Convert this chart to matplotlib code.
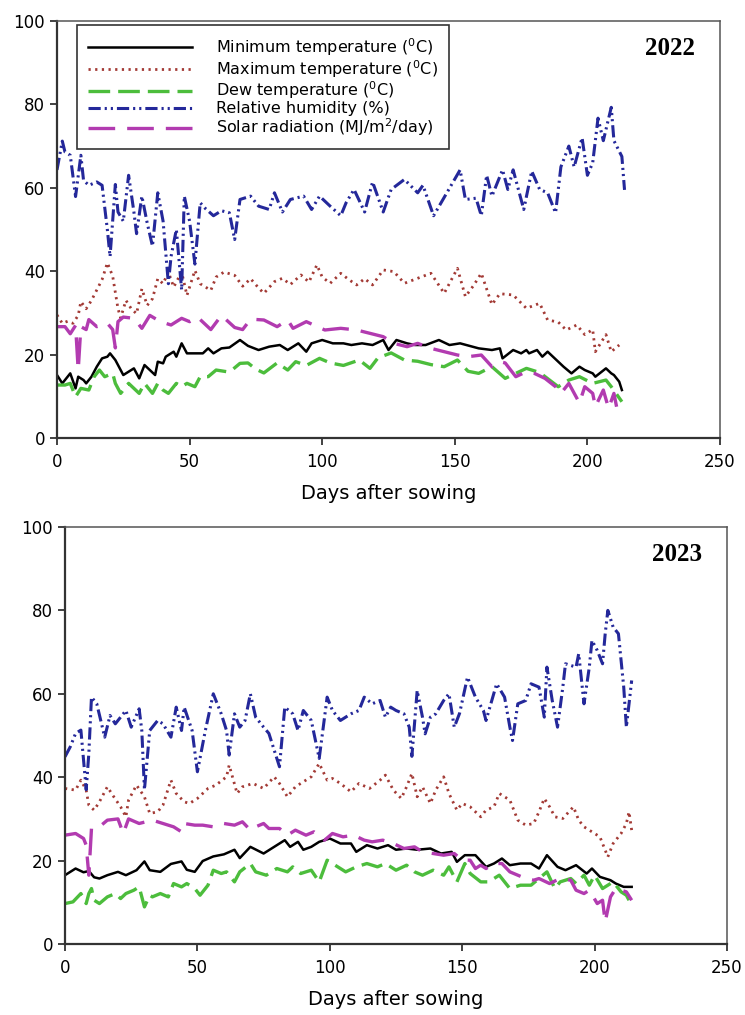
import matplotlib
matplotlib.use("Agg")
import matplotlib.pyplot as plt

plt.rcParams['font.family'] = ['DejaVu Sans']
plt.rcParams['mathtext.fontset'] = 'dejavusans'
plt.rcParams['mathtext.default'] = 'regular'

# ---------------- 2022 ----------------
min22_d = [0, 2, 3, 5, 7, 8, 10, 11, 13, 15, 17, 19, 20, 22, 25, 27, 29, 31, 33, 35, 37, 38, 40, 41, 44, 45, 47, 49,
           52, 55, 57, 59, 62, 65, 69, 72, 76, 80, 84, 87, 91, 94, 96, 100, 104, 108, 111, 115, 119, 123, 125, 128,
           132, 135, 139, 144, 148, 152, 159, 164, 167, 168, 172, 175, 177, 178, 181, 183, 185, 187, 189, 191, 194,
           197, 199, 202, 203, 207, 209, 210, 212, 213]
min22_v = [15.1, 13.1, 13.9, 15.5, 11.9, 14.7, 13.9, 13.1, 14.7, 17.1, 19.1, 19.5, 20.3, 18.7, 15.1, 15.9, 16.7, 14.3,
           17.5, 16.3, 15.1, 18.3, 17.9, 19.5, 20.7, 19.5, 22.7, 20.3, 20.3, 20.3, 21.5, 20.3, 21.5, 21.7, 23.5, 22.1,
           21.1, 21.9, 22.3, 21.1, 22.7, 20.7, 22.7, 23.5, 22.7, 22.7, 22.3, 22.7, 22.3, 23.5, 21.1, 23.5, 22.7, 22.3,
           22.3, 23.5, 22.3, 22.7, 21.5, 21.1, 21.5, 19.1, 21.1, 20.3, 21.1, 20.3, 21.1, 19.5, 20.7, 19.5, 18.3, 17.1,
           15.5, 17.1, 16.3, 15.5, 14.7, 16.7, 15.5, 15.1, 13.5, 11.5]

max22_d = [0, 2, 4, 6, 8, 9, 11, 13, 15, 17, 19, 21, 23, 24, 26, 28, 30, 32, 34, 36, 38, 40, 42, 44, 47, 49, 52, 54,
           58, 60, 63, 67, 70, 73, 76, 78, 82, 85, 88, 92, 95, 98, 100, 103, 107, 110, 113, 116, 119, 123, 127, 131,
           136, 141, 146, 151, 154, 157, 160, 164, 167, 172, 177, 182, 185, 189, 192, 196, 199, 202, 203, 207, 209,
           212]
max22_v = [29.5, 27.5, 28.0, 27.5, 29.4, 32.7, 31.0, 33.0, 35.5, 38.0, 42.0, 38.8, 31.0, 28.8, 33.0, 31.0, 29.8, 35.8,
           31.8, 33.4, 38.2, 37.0, 39.8, 36.2, 39.8, 34.2, 40.2, 37.0, 35.4, 38.6, 39.8, 39.0, 36.4, 38.2, 36.0, 34.7,
           37.5, 38.3, 36.8, 39.1, 37.4, 41.5, 38.6, 37.1, 39.5, 38.0, 36.7, 38.2, 36.7, 40.3, 39.9, 37.1, 38.3, 39.5,
           34.7, 40.7, 33.9, 36.5, 39.5, 32.0, 34.6, 34.3, 31.1, 32.3, 28.3, 27.8, 25.9, 27.1, 24.8, 26.0, 20.7, 24.8,
           20.7, 22.3]

dew22_d = [0, 3, 5, 7, 9, 12, 14, 16, 18, 21, 22, 24, 27, 29, 31, 33, 36, 38, 40, 42, 45, 47, 49, 52, 54, 57, 60, 64,
           66, 69, 72, 75, 78, 83, 87, 90, 94, 99, 103, 108, 114, 118, 121, 126, 131, 136, 141, 146, 151, 155, 159,
           164, 169, 177, 182, 189, 193, 197, 202, 207, 209, 213]
dew22_v = [12.7, 12.7, 13.1, 9.9, 11.9, 11.5, 14.7, 16.3, 14.7, 15.5, 13.1, 10.7, 13.1, 11.9, 10.7, 13.1, 10.7, 13.1,
           11.5, 10.7, 13.1, 12.3, 13.1, 12.3, 14.7, 14.7, 16.3, 15.9, 16.3, 17.9, 18.0, 16.5, 15.6, 18.0, 16.3, 18.3,
           17.4, 19.1, 18.0, 17.4, 18.7, 16.7, 19.2, 20.4, 18.7, 18.4, 17.6, 17.1, 18.7, 16.0, 15.5, 17.1, 14.3, 16.7,
           15.7, 12.3, 13.9, 14.7, 13.1, 13.9, 12.3, 8.7]

rh22_d = [0, 2, 3, 5, 7, 9, 10, 12, 15, 17, 19, 20, 22, 23, 25, 27, 29, 30, 32, 34, 36, 38, 40, 42, 43, 45, 47, 48,
          50, 52, 54, 56, 59, 62, 65, 67, 69, 73, 76, 80, 82, 85, 88, 93, 96, 99, 103, 107, 109, 112, 116, 119, 123,
          126, 131, 136, 138, 142, 147, 152, 154, 158, 160, 162, 164, 168, 170, 172, 176, 179, 182, 185, 188, 190,
          193, 195, 198, 200, 202, 204, 206, 209, 210, 213, 214]
rh22_v = [64.3, 71.2, 68.6, 67.8, 57.9, 67.8, 61.8, 60.6, 61.4, 60.6, 49.9, 43.5, 60.8, 54.2, 52.0, 63.0, 54.2, 49.0,
          58.0, 51.6, 46.0, 58.8, 52.0, 37.0, 43.5, 50.0, 35.5, 58.0, 52.0, 41.7, 56.4, 55.0, 53.3, 54.5, 54.0, 47.6,
          57.2, 58.0, 55.6, 54.8, 58.8, 54.2, 57.2, 58.0, 54.8, 58.0, 55.6, 53.3, 56.4, 59.6, 54.2, 61.4, 54.2, 59.6,
          62.0, 58.8, 60.6, 53.3, 58.8, 64.3, 57.2, 57.5, 53.3, 63.0, 58.0, 64.3, 59.6, 64.3, 54.8, 64.0, 59.6, 58.8,
          54.0, 65.0, 70.0, 65.0, 72.0, 63.0, 66.0, 76.7, 71.3, 79.3, 71.3, 67.5, 59.5]

sol22_d = [0, 3, 5, 7, 8, 9, 11, 12, 15, 19, 21, 22, 23, 25, 29, 32, 35, 39, 43, 47, 50, 53, 58, 62, 67, 70, 73, 78,
           83, 87, 89, 94, 101, 107, 113, 118, 123, 127, 132, 136, 141, 146, 151, 155, 160, 164, 167, 169, 173, 177,
           180, 184, 188, 190, 193, 197, 199, 202, 203, 206, 208, 210, 211]
sol22_v = [26.7, 26.7, 25.0, 27.0, 16.3, 26.7, 26.0, 28.4, 26.7, 27.5, 26.0, 21.6, 27.9, 29.0, 28.7, 26.3, 29.4, 27.9,
           27.1, 28.7, 27.9, 29.0, 26.0, 29.4, 26.5, 26.0, 28.5, 28.3, 26.7, 28.3, 26.3, 27.9, 25.9, 26.3, 25.9, 25.1,
           24.3, 22.7, 21.9, 22.7, 21.5, 20.7, 19.9, 19.5, 19.9, 17.1, 18.3, 18.0, 14.7, 15.9, 15.5, 14.3, 12.3, 10.7,
           13.1, 8.4, 12.3, 10.7, 7.5, 11.5, 7.1, 10.7, 7.5]

# ---------------- 2023 ----------------
min23_d = [0, 2, 4, 7, 9, 11, 13, 16, 20, 23, 27, 30, 32, 36, 40, 44, 46, 49, 52, 56, 60, 64, 66, 70, 75, 79, 83, 85,
           88, 90, 93, 96, 100, 104, 108, 110, 114, 118, 122, 125, 129, 133, 138, 142, 146, 148, 151, 155, 159, 162,
           165, 168, 172, 176, 179, 182, 186, 189, 193, 197, 199, 202, 206, 208, 211, 214]
min23_v = [16.5, 17.3, 18.1, 17.2, 17.5, 16.0, 15.7, 16.5, 17.3, 16.5, 17.7, 19.8, 17.7, 17.3, 19.2, 19.8, 17.8, 17.3,
           19.9, 21.0, 21.5, 22.6, 20.6, 23.3, 21.7, 23.3, 24.9, 23.3, 24.5, 22.6, 23.3, 24.5, 25.3, 24.1, 24.1, 22.1,
           23.7, 22.9, 23.7, 22.6, 22.9, 22.6, 22.9, 21.7, 22.1, 19.7, 21.3, 21.3, 18.5, 19.3, 20.5, 18.9, 19.3, 19.3,
           18.1, 21.3, 18.5, 17.7, 18.9, 16.9, 18.1, 16.1, 15.3, 14.5, 13.7, 13.7]

max23_d = [0, 4, 6, 8, 9, 11, 13, 16, 18, 21, 23, 24, 27, 30, 32, 35, 37, 40, 42, 45, 47, 50, 54, 57, 61, 62, 65, 67,
           71, 75, 79, 81, 84, 87, 90, 93, 96, 99, 101, 104, 108, 111, 115, 119, 121, 124, 127, 129, 131, 133, 135,
           138, 140, 143, 145, 148, 150, 153, 157, 159, 162, 164, 168, 171, 174, 177, 179, 181, 183, 185, 188, 192,
           194, 196, 200, 202, 204, 205, 207, 210, 212, 213, 214]
max23_v = [37.3, 36.9, 39.3, 36.9, 33.3, 32.1, 34.1, 37.7, 35.7, 32.9, 30.5, 34.5, 38.1, 35.3, 31.3, 31.7, 33.3, 39.3,
           36.1, 34.1, 33.7, 34.9, 37.3, 38.1, 40.1, 42.9, 36.1, 37.7, 38.5, 37.3, 40.1, 38.5, 35.3, 37.7, 38.9, 40.1,
           43.3, 39.3, 39.7, 38.5, 36.5, 38.5, 37.3, 39.3, 40.5, 36.9, 34.9, 37.7, 40.9, 35.3, 37.7, 33.7, 36.9, 40.1,
           36.1, 32.1, 33.7, 32.9, 30.5, 32.1, 32.9, 36.1, 34.5, 29.7, 28.5, 28.9, 31.7, 34.9, 32.9, 30.5, 30.1, 32.9,
           29.7, 28.1, 26.5, 25.7, 22.5, 20.9, 24.1, 26.5, 28.9, 31.7, 27.3]

dew23_d = [0, 3, 6, 8, 9, 10, 11, 13, 16, 19, 21, 23, 26, 28, 30, 32, 33, 36, 39, 41, 44, 46, 49, 51, 54, 56, 59, 61,
           64, 66, 70, 72, 76, 80, 84, 86, 89, 93, 96, 99, 103, 106, 110, 114, 118, 121, 125, 129, 132, 135, 139, 143,
           145, 148, 151, 153, 157, 160, 164, 168, 172, 176, 179, 182, 185, 187, 191, 193, 196, 198, 200, 203, 207,
           210, 212, 213]
dew23_v = [9.7, 10.1, 12.1, 9.7, 12.1, 13.3, 10.5, 9.7, 11.3, 12.1, 10.9, 12.1, 12.9, 13.7, 8.9, 11.7, 11.3, 12.1,
           11.3, 14.5, 13.7, 14.5, 13.3, 11.7, 14.1, 17.7, 16.9, 17.3, 14.9, 17.3, 19.3, 17.3, 16.5, 18.1, 17.3, 18.5,
           16.9, 17.7, 14.9, 20.1, 18.5, 17.3, 18.5, 19.3, 18.5, 19.3, 17.7, 18.9, 17.3, 16.5, 17.7, 16.5, 18.5, 14.9,
           19.3, 16.9, 14.9, 14.9, 16.5, 13.3, 14.1, 14.1, 15.7, 17.3, 13.3, 14.9, 15.7, 14.5, 16.5, 14.1, 16.5, 13.3,
           14.9, 12.5, 11.7, 10.5]

rh23_d = [0, 2, 4, 6, 8, 9, 10, 12, 15, 17, 19, 21, 23, 25, 28, 29, 30, 32, 35, 37, 40, 42, 44, 45, 48, 50, 53, 56,
          59, 61, 62, 64, 66, 68, 70, 72, 75, 77, 81, 83, 86, 88, 90, 93, 96, 99, 101, 104, 108, 111, 113, 116, 119,
          121, 123, 125, 128, 130, 131, 133, 135, 136, 138, 140, 143, 145, 147, 149, 152, 155, 158, 159, 163, 166,
          168, 169, 171, 174, 176, 179, 181, 182, 184, 186, 188, 189, 193, 194, 196, 198, 199, 201, 203, 204, 205,
          207, 209, 211, 212, 214]
rh23_v = [44.9, 47.3, 50.5, 51.3, 37.0, 45.7, 59.2, 57.6, 49.6, 54.8, 52.8, 54.4, 56.0, 52.0, 56.4, 51.2, 37.0, 51.2,
          53.6, 52.8, 49.6, 56.8, 51.2, 56.8, 51.2, 41.3, 51.2, 60.0, 55.2, 51.2, 45.3, 55.2, 52.0, 53.6, 60.0, 54.4,
          52.0, 50.5, 42.5, 56.8, 55.2, 51.2, 56.0, 53.6, 44.5, 59.2, 56.0, 53.6, 55.2, 56.0, 59.2, 57.6, 58.4, 54.4,
          56.8, 56.0, 55.2, 52.0, 45.0, 60.8, 54.4, 50.4, 54.4, 55.2, 58.4, 60.0, 52.0, 55.3, 64.0, 59.2, 56.0, 53.6,
          62.4, 59.2, 52.0, 48.8, 57.6, 58.4, 62.4, 61.6, 54.4, 66.4, 58.4, 52.0, 61.6, 67.2, 66.4, 69.6, 57.6, 66.4,
          72.8, 70.4, 67.2, 74.4, 80.0, 76.0, 74.4, 61.6, 52.0, 63.2]

sol23_d = [0, 4, 7, 8, 9, 10, 13, 16, 20, 22, 24, 28, 33, 37, 41, 44, 45, 49, 52, 56, 60, 64, 67, 70, 72, 75, 77, 81,
           84, 87, 91, 94, 98, 101, 105, 109, 113, 116, 120, 124, 128, 132, 135, 139, 143, 147, 150, 153, 155, 157,
           159, 162, 165, 168, 171, 174, 177, 179, 183, 187, 191, 193, 196, 198, 201, 203, 204, 206, 208, 210, 212,
           214]
sol23_v = [26.1, 26.5, 25.3, 23.7, 16.5, 27.7, 28.1, 29.7, 30.0, 26.5, 30.0, 28.9, 29.7, 28.9, 28.1, 26.9, 28.9, 28.5,
           28.5, 28.1, 28.9, 28.5, 29.3, 27.3, 28.1, 28.9, 27.7, 27.7, 26.1, 27.3, 26.1, 26.9, 24.9, 26.5, 25.7, 26.1,
           24.9, 24.5, 24.9, 24.1, 22.9, 23.3, 22.1, 21.7, 21.3, 21.7, 20.1, 20.1, 18.1, 18.9, 18.1, 19.3, 19.3, 17.3,
           16.5, 15.7, 15.3, 15.7, 14.5, 15.7, 15.3, 12.9, 12.1, 12.9, 9.7, 10.5, 5.3, 11.3, 13.3, 12.9, 12.5, 10.5]

labels = [r'Minimum temperature ($^0$C)', r'Maximum temperature ($^0$C)', r'Dew temperature ($^0$C)',
          'Relative humidity (%)', r'Solar radiation (MJ/m$^2$/day)']
x_ticks = [0, 50, 100, 150, 200, 250]
y_ticks = [0, 20, 40, 60, 80, 100]
years = ['2022', '2023']

styles = [
    dict(color='black', lw=1.8, ls='-'),
    dict(color='#a33a35', lw=2.0, ls=(0, (0.8, 1.6))),
    dict(color='#4cbd3c', lw=2.4, ls=(0, (6.5, 2.4))),
    dict(color='#24289a', lw=2.2, ls=(0, (4, 1.3, 0.7, 1.3, 0.7, 1.3))),
    dict(color='#b23bb0', lw=2.4, ls=(0, (8, 3.6))),
]

fig = plt.figure(figsize=(7.45, 10.15), dpi=100)
ax1 = fig.add_axes([57/745, 1-438/1015, 663/745, 417/1015])
ax2 = fig.add_axes([65/745, 1-944/1015, 662/745, 417/1015])

data = [
    [(min22_d, min22_v), (max22_d, max22_v), (dew22_d, dew22_v), (rh22_d, rh22_v), (sol22_d, sol22_v)],
    [(min23_d, min23_v), (max23_d, max23_v), (dew23_d, dew23_v), (rh23_d, rh23_v), (sol23_d, sol23_v)],
]

for ax, series, yr in zip([ax1, ax2], data, years):
    handles = []
    for (d, v), st, lab in zip(series, styles, labels):
        h, = ax.plot(d, v, color=st['color'], lw=st['lw'], linestyle=st['ls'], label=lab)
        handles.append(h)
    ax.set_xlim(0, 250)
    ax.set_ylim(0, 100)
    ax.set_xticks(x_ticks)
    ax.set_yticks(y_ticks)
    ax.tick_params(direction='out', length=5, width=1.3, labelsize=12, color='#333333')
    ax.tick_params(axis='x', pad=5.5)
    ax.tick_params(axis='y', pad=3.5)
    for s in ['left', 'bottom']:
        ax.spines[s].set_linewidth(1.6)
        ax.spines[s].set_color('#333333')
    for s in ['top', 'right']:
        ax.spines[s].set_linewidth(1.1)
        ax.spines[s].set_color('#555555')
    ax.set_xlabel('Days after sowing', fontsize=14, labelpad=10)
    ax.text(231, 93.3, yr, fontsize=18, fontweight='bold', family='Liberation Serif',
            ha='center', va='center')
    if ax is ax1:
        leg = ax.legend(handles=handles, loc='upper left', bbox_to_anchor=(0.030, 0.990),
                        borderaxespad=0, fontsize=11.5, handlelength=6.5, handletextpad=1.5,
                        labelspacing=0.0, borderpad=0.7, fancybox=False, framealpha=1,
                        edgecolor='#333333')
        leg.get_frame().set_linewidth(1.2)

fig.savefig('out.png', dpi=100)
